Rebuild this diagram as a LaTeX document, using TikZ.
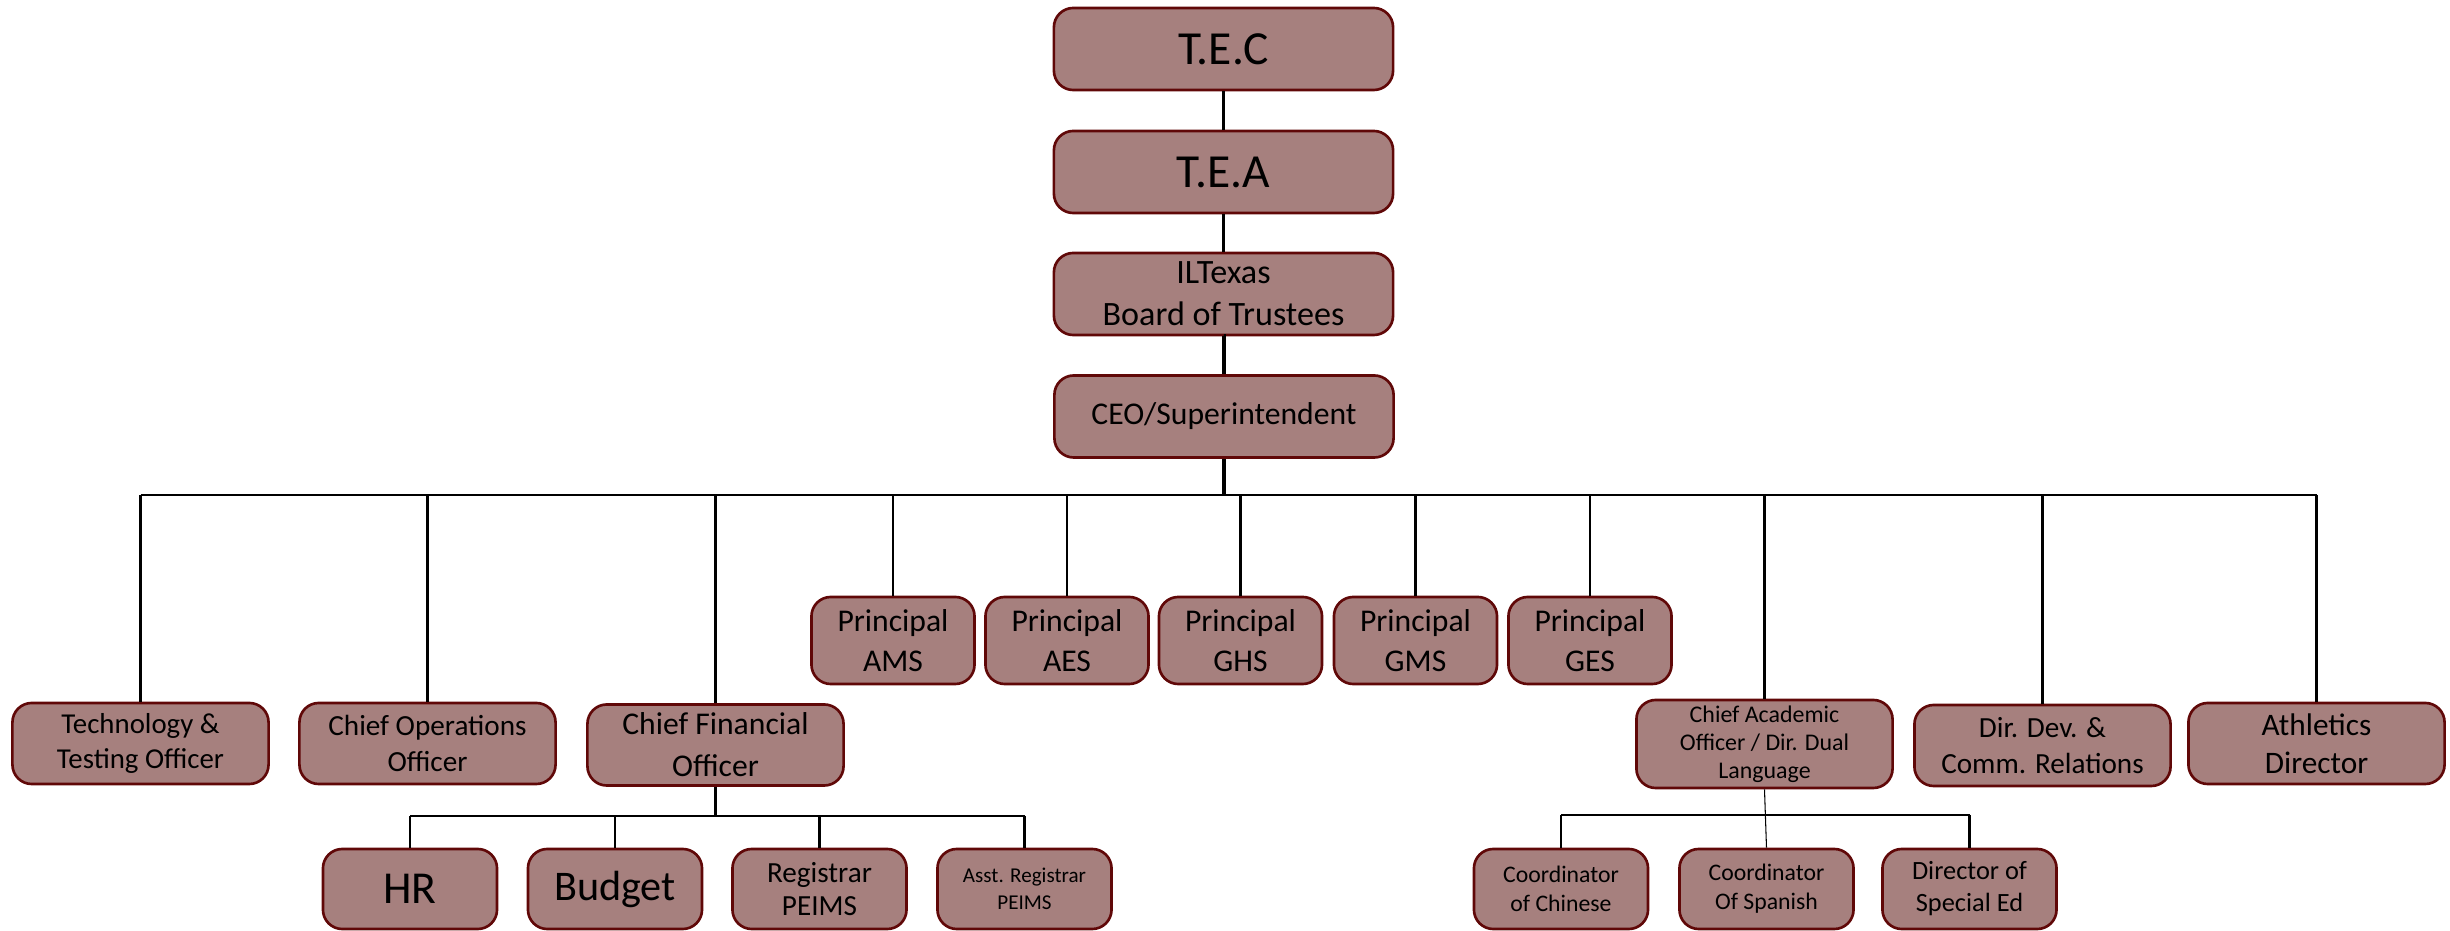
\documentclass[tikz,border=0pt]{standalone}
\usepackage{fontspec}
\setmainfont{Carlito}
\usepackage{tikz}
\usepackage{xcolor}
\definecolor{orgfill}{RGB}{166,128,126}
\definecolor{orgline}{RGB}{96,8,8}
\tikzstyle{orgbox} = [draw=orgline, fill=orgfill, line width=0.75pt, rounded corners=5.5pt, align=center, inner sep=1pt]
\tikzstyle{topbox} = [orgbox, minimum width=3.39cm, minimum height=0.82cm]
\tikzstyle{midbox} = [orgbox, minimum width=2.56cm, minimum height=0.81cm]
\tikzstyle{prinbox} = [orgbox, minimum width=1.63cm, minimum height=0.87cm, font=\fontsize{9}{11.4}\selectfont]
\tikzstyle{lowbox} = [orgbox, minimum width=1.74cm, minimum height=0.80cm]
\tikzstyle{link} = [line width=1.1pt, black]
\tikzstyle{bus} = [line width=0.6pt, black]

\begin{document}
\begin{tikzpicture}[x=0.01cm, y=-0.01cm]
\useasboundingbox (0,0) rectangle (2450,931);

% Top of the chart
\node[topbox, font=\fontsize{13.5}{16}\selectfont] (tec) at (1223.5,49) {T.E.C};
\node[topbox, font=\fontsize{13.5}{16}\selectfont] (tea) at (1223.5,172) {T.E.A};
\node[topbox, font=\fontsize{9.7}{11.9}\selectfont] (board) at (1223.5,294) {ILTexas\\Board of Trustees};
\node[topbox, font=\fontsize{9}{11}\selectfont] (ceo) at (1224,416.5) {CEO/Superintendent};

\draw[link] (tec.south) -- (tea.north);
\draw[link] (tea.south) -- (board.north);
\draw[link] (board.south) -- (ceo.south |- board.south) -- (ceo.north);

% Officers
\node[midbox, font=\fontsize{8.2}{10}\selectfont] (tech) at (140.5,743.5) {Technology \&\\Testing Officer};
\node[midbox, font=\fontsize{8.3}{10.5}\selectfont] (coo) at (427.5,743.5) {Chief Operations\\Officer};
\node[midbox, font=\fontsize{9}{11.9}\selectfont] (cfo) at (715.5,745) {Chief Financial\\Officer};
\node[midbox, minimum height=0.88cm, font=\fontsize{6.8}{8}\selectfont] (cao) at (1764.5,744) {Chief Academic\\Officer / Dir. Dual\\Language};
\node[midbox, font=\fontsize{8.3}{10}\selectfont] (ddev) at (2042.5,745.5) {Dir. Dev. \&\\Comm. Relations};
\node[midbox, font=\fontsize{8.9}{10.8}\selectfont] (athl) at (2316.5,743.5) {Athletics\\Director};

% Principals
\foreach \s/\x in {AMS/893,AES/1067,GHS/1240.5,GMS/1415.5,GES/1590}
    \node[prinbox] (p\s) at (\x,640.5) {Principal\\\s};

% Under the CFO
\node[lowbox, font=\fontsize{13}{15}\selectfont] (hr) at (410,889) {HR};
\node[lowbox, font=\fontsize{12}{14}\selectfont] (budget) at (615,889) {Budget};
\node[lowbox, font=\fontsize{8.3}{9.4}\selectfont] (reg) at (819.5,889) {Registrar\\PEIMS};
\node[lowbox, font=\fontsize{6}{7.7}\selectfont] (asst) at (1024.5,889) {Asst. Registrar\\PEIMS};

% Under the academic officer
\node[lowbox, font=\fontsize{6.75}{8.25}\selectfont] (chin) at (1561,889) {Coordinator\\of Chinese};
\node[lowbox, font=\fontsize{6.75}{8.25}\selectfont] (span) at (1766.5,889) {Coordinator\\Of Spanish};
\node[lowbox, font=\fontsize{7.5}{9.1}\selectfont] (sped) at (1969.5,889) {Director of\\Special Ed};

% Main bus
\coordinate (mainbus) at (0,495);
\draw[link] (ceo.south) -- (ceo.south |- mainbus);
\draw[bus] (tech.north |- mainbus) -- (athl.north |- mainbus);
\foreach \n in {tech,coo,cfo,pAMS,pAES,pGHS,pGMS,pGES,cao,ddev,athl}
    \draw[bus] (\n.north |- mainbus) -- (\n.north);

% CFO bus
\coordinate (cfobus) at (0,816);
\draw[bus] (cfo.south) -- (cfo.south |- cfobus);
\draw[bus] (hr.north |- cfobus) -- (asst.north |- cfobus);
\foreach \n in {hr,budget,reg,asst}
    \draw[bus] (\n.north |- cfobus) -- (\n.north);

% Academic bus
\coordinate (caobus) at (0,815);
\draw[bus] (chin.north |- caobus) -- (sped.north |- caobus);
\draw[line width=0.3pt] (cao.south) -- (span.north);
\foreach \n in {chin,sped}
    \draw[bus] (\n.north |- caobus) -- (\n.north);
\end{tikzpicture}
\end{document}
